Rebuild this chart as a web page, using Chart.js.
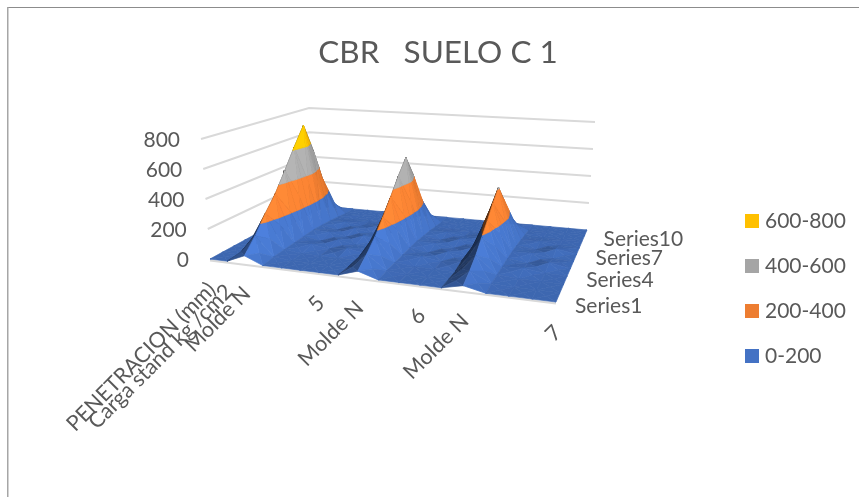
<!DOCTYPE html>
<html>
<head>
<meta charset="utf-8">
<title>CBR SUELO C 1</title>
<script src="https://cdn.jsdelivr.net/npm/chart.js@4/dist/chart.umd.js"></script>
<style>
  html, body { margin: 0; padding: 0; background: #fff; }
  #wrap { position: relative; width: 859px; height: 497px; overflow: hidden; }
</style>
</head>
<body>
<div id="wrap"><canvas id="surface"></canvas></div>
<script>
const chartTitle = 'CBR   SUELO C 1';
const categories = ['PENETRACION (mm)', 'Carga stand kg /cm2', 'Molde N', '', '', '', '5', '', 'Molde N', '', '', '6', '', 'Molde N', '', '', '', '7'];
const seriesNames = ['Series1', 'Series2', 'Series3', 'Series4', 'Series5', 'Series6', 'Series7', 'Series8', 'Series9', 'Series10', 'Series11'];
const zTicks = [0, 200, 400, 600, 800];
const bandNames = ['0-200', '200-400', '400-600', '600-800'];
const bandColors = ['#4472c4', '#ed7d31', '#a5a5a5', '#ffc000'];

// one row of values per series, one value per category
const series1  = [0, 0, 50, 0, 0, 0, 0, 0, 40, 0, 0, 0, 0, 30, 0, 0, 0, 0];
const series2  = [0, 0, 140, 12, 0, 0, 0, 0, 100, 10, 0, 0, 0, 70, 8, 0, 0, 0];
const series3  = [0, 0, 250, 16, 3, 0, 0, 0, 170, 14, 2, 0, 0, 120, 12, 2, 0, 0];
const series4  = [0, 0, 350, 20, 22, 3, 20, 0, 260, 18, 20, 3, 18, 190, 16, 20, 3, 0];
const series5  = [0, 0, 480, 24, 3, 24, 2, 0, 360, 22, 3, 22, 2, 260, 20, 3, 22, 0];
const series6  = [0, 0, 620, 28, 24, 2, 24, 0, 470, 24, 22, 2, 22, 340, 22, 22, 2, 0];
const series7  = [0, 0, 755, 24, 3, 24, 3, 0, 570, 20, 3, 22, 3, 410, 18, 3, 22, 0];
const series8  = [0, 0, 540, 18, 20, 3, 16, 0, 420, 16, 18, 2, 14, 300, 14, 16, 2, 0];
const series9  = [0, 0, 300, 10, 0, 0, 0, 0, 230, 8, 0, 0, 0, 160, 7, 0, 0, 0];
const series10 = [0, 0, 80, 0, 0, 0, 0, 0, 60, 0, 0, 0, 0, 50, 0, 0, 0, 0];
const series11 = [0, 0, 0, 0, 0, 0, 0, 0, 0, 0, 0, 0, 0, 0, 0, 0, 0, 0];
const rows = [series1, series2, series3, series4, series5, series6, series7, series8, series9, series10, series11];

const textColor = '#595959';
const fontName = 'Lato, "Open Sans", sans-serif';

// floor corners on the canvas: front left, front right, back right, back left
const floorQuad = [[210, 259], [556, 302], [587, 230], [309, 205]];
const wallHeight = [120, 131, 108, 97];   // pixels for the full 0-800 range at each corner
const wallLean = [-9, -1, 8, 0];          // sideways drift of the verticals at each corner

// unit square to floor quad
function makeHomography(q) {
  const [p0, p1, p2, p3] = q;
  const dx1 = p1[0] - p2[0], dx2 = p3[0] - p2[0], sx = p0[0] - p1[0] + p2[0] - p3[0];
  const dy1 = p1[1] - p2[1], dy2 = p3[1] - p2[1], sy = p0[1] - p1[1] + p2[1] - p3[1];
  const det = dx1 * dy2 - dx2 * dy1;
  const g = (sx * dy2 - dx2 * sy) / det;
  const h = (dx1 * sy - sx * dy1) / det;
  const a = p1[0] - p0[0] + g * p1[0], b = p3[0] - p0[0] + h * p3[0], c = p0[0];
  const d = p1[1] - p0[1] + g * p1[1], e = p3[1] - p0[1] + h * p3[1], f = p0[1];
  return (u, v) => {
    const w = g * u + h * v + 1;
    return [(a * u + b * v + c) / w, (d * u + e * v + f) / w];
  };
}
const floorAt = makeHomography(floorQuad);

function bilinear(k, u, v) {
  return k[0] * (1 - u) * (1 - v) + k[1] * u * (1 - v) + k[2] * u * v + k[3] * (1 - u) * v;
}

// col, row, value -> position on the x and y scales
function project(col, row, value) {
  const u = col / (categories.length - 1);
  const v = row / (rows.length - 1);
  const [x, y] = floorAt(u, v);
  const t = value / zTicks[zTicks.length - 1];
  return { x: x + bilinear(wallLean, u, v) * t, y: y - bilinear(wallHeight, u, v) * t };
}

function clipBelow(poly, limit, keepBelow) {
  const out = [];
  poly.forEach((p, i) => {
    const q = poly[(i + 1) % poly.length];
    const pIn = keepBelow ? p[2] <= limit : p[2] >= limit;
    const qIn = keepBelow ? q[2] <= limit : q[2] >= limit;
    if (pIn) out.push(p);
    if (pIn !== qIn) {
      const t = (limit - p[2]) / (q[2] - p[2]);
      out.push([p[0] + (q[0] - p[0]) * t, p[1] + (q[1] - p[1]) * t, limit]);
    }
  });
  return out;
}

// facet brightness from its normal, lit from the front right
function facetShade(tri) {
  const [a, b, c] = tri;
  const ux = b[0] - a[0], uy = (b[1] - a[1]) * 1.3, uz = (b[2] - a[2]) / 100;
  const vx = c[0] - a[0], vy = (c[1] - a[1]) * 1.3, vz = (c[2] - a[2]) / 100;
  let nx = uy * vz - uz * vy, ny = uz * vx - ux * vz, nz = ux * vy - uy * vx;
  const len = Math.hypot(nx, ny, nz) || 1;
  nx /= len; ny /= len; nz /= len;
  if (nz < 0) { nx = -nx; ny = -ny; }
  const side = nx > 0 ? nx * 0.14 : nx * 0.62;
  return 0.9 + side - ny * 0.3;
}

function shadeColor(hex, k) {
  const n = parseInt(hex.slice(1), 16);
  const ch = [n >> 16, (n >> 8) & 255, n & 255].map(c => Math.min(255, Math.round(c * k)));
  return 'rgb(' + ch.join(',') + ')';
}

function polygonDataset(points, color) {
  return {
    data: points.concat(points[0]),
    showLine: true,
    pointRadius: 0,
    borderWidth: 0.7,
    borderColor: color,
    backgroundColor: color,
    fill: 'shape',
    tension: 0
  };
}

function lineDataset(points) {
  return { data: points, showLine: true, pointRadius: 0, borderWidth: 2, borderColor: '#d9d9d9', fill: false, tension: 0 };
}

// painter's order: walls first, then the surface from the back row to the front,
// left to right because the viewer stands off to the right
function buildDatasets() {
  const list = [];
  const lastCol = categories.length - 1, lastRow = rows.length - 1;
  zTicks.forEach(tick => {
    if (tick > 0) {
      list.push(lineDataset([project(0, 0, tick), project(0, lastRow, tick), project(lastCol, lastRow, tick)]));
    }
  });
  list.push(lineDataset([{ x: project(0, 0, 0).x, y: project(0, 0, 0).y + 1.5 }, { x: project(lastCol, 0, 0).x, y: project(lastCol, 0, 0).y + 1.5 }]));

  for (let r = lastRow - 1; r >= 0; r--) {
    for (let c = 0; c < lastCol; c++) {
      const fl = [c, r, rows[r][c]], fr = [c + 1, r, rows[r][c + 1]];
      const bl = [c, r + 1, rows[r + 1][c]], br = [c + 1, r + 1, rows[r + 1][c + 1]];
      const mid = [c + 0.5, r + 0.5, (fl[2] + fr[2] + bl[2] + br[2]) / 4];
      [[bl, br, mid], [bl, fl, mid], [br, fr, mid], [fl, fr, mid]].forEach(tri => {
        const k = facetShade(tri);
        bandColors.forEach((color, b) => {
          let poly = clipBelow(tri, zTicks[b], false);
          if (poly.length) poly = clipBelow(poly, zTicks[b + 1], true);
          if (poly.length >= 3) {
            list.push(polygonDataset(poly.map(p => project(p[0], p[1], p[2])), shadeColor(color, k)));
          }
        });
      });
    }
  }
  // the chart paints its first dataset last
  return list.reverse();
}

function putText(ctx, text, x, y, size, align, baseline, angle) {
  ctx.save();
  ctx.translate(x, y);
  if (angle) ctx.rotate(angle);
  ctx.font = size + 'px ' + fontName;
  ctx.fillStyle = textColor;
  ctx.textAlign = align;
  ctx.textBaseline = baseline;
  ctx.fillText(text, 0, 0);
  ctx.restore();
}

// title, axis labels, legend and the outer frame
const chartText = {
  id: 'chartText',
  beforeDatasetsDraw(chart) {
    const ctx = chart.ctx;
    ctx.save();
    ctx.fillStyle = '#8c8c8c';
    ctx.fillRect(7, 7, 852, 1);
    ctx.fillStyle = '#a6a6a6';
    ctx.fillRect(7, 7, 1.5, 490);
    ctx.restore();
  },
  afterDraw(chart) {
    const ctx = chart.ctx;
    putText(ctx, chartTitle, 438, 53, 31.5, 'center', 'middle');

    zTicks.forEach(tick => {
      const p = project(0, 0, tick);
      putText(ctx, String(tick), p.x - 21, p.y + 1, 21, 'right', 'middle');
    });

    categories.forEach((name, c) => {
      if (!name) return;
      const p = project(c, 0, 0);
      putText(ctx, name, p.x + 2, p.y + 27, 21.5, 'right', 'middle', -Math.PI / 4);
    });

    seriesNames.forEach((name, r) => {
      if (r % 3 !== 0) return;
      const p = project(categories.length - 1, r, 0);
      putText(ctx, name, p.x + 19, p.y + 4, 21, 'left', 'middle');
    });

    for (let b = bandNames.length - 1, i = 0; b >= 0; b--, i++) {
      ctx.fillStyle = bandColors[b];
      ctx.fillRect(745, 214 + i * 45, 14, 14);
      putText(ctx, bandNames[b], 765, 221 + i * 45, 21, 'left', 'middle');
    }
  }
};

new Chart(document.getElementById('surface'), {
  type: 'scatter',
  data: { datasets: buildDatasets() },
  plugins: [chartText],
  options: {
    responsive: true,
    maintainAspectRatio: false,
    animation: false,
    layout: { padding: 0 },
    plugins: { legend: { display: false }, tooltip: { enabled: false } },
    scales: {
      x: { type: 'linear', display: false, min: 0, max: 859 },
      y: { type: 'linear', display: false, min: 0, max: 497, reverse: true }
    }
  }
});
</script>
</body>
</html>
